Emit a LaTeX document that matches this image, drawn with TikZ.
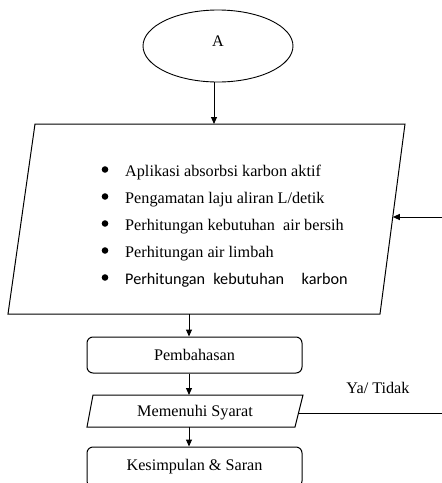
\documentclass[tikz,border=0pt]{standalone}
\usepackage{fontspec}
\setmainfont{Liberation Serif}
\newfontfamily\calib{Carlito}
\usetikzlibrary{shapes.geometric,arrows.meta}
\begin{document}
\begin{tikzpicture}[x=1pt,y=-1pt,
  every node/.style={font=\fontsize{16.2}{19}\selectfont},
  arr/.style={draw, line width=1pt, -{Triangle[length=7pt,width=6pt]}},
  ln/.style={draw, line width=1pt},
  boxr/.style={draw, line width=1pt, rounded corners=6pt, minimum width=215pt, minimum height=36pt, inner sep=0pt},
  itemtxt/.style={anchor=base west, inner sep=0pt},
  bul/.style={fill=black}]
\useasboundingbox (0,0) rectangle (442,483);
% start ellipse
\node[draw, ellipse, line width=0.9pt, minimum width=150pt, minimum height=72pt, inner sep=0pt] (A) at (218,46) {\raisebox{9pt}{A}};
% big parallelogram
\coordinate (b1) at (35,124);
\coordinate (b2) at (405,124);
\coordinate (b3) at (380,314);
\coordinate (b4) at (8,314);
\draw[line width=1pt] (b1) -- (b2) -- (b3) -- (b4) -- cycle;
\coordinate (aTop) at (214,82);
\coordinate (bIn) at (214,124);
\coordinate (bOut) at (189,314);
\coordinate (bRight) at (392.8,217);
\coordinate (fbStart) at (442,217);
% items
\foreach \i/\yb in {0/169.5,1/196.5,2/223.5,3/250.5,4/277.5}{\fill[bul] (105,\yb) circle (3.3pt);}
\node[itemtxt] (t1) at (125,176) {Aplikasi absorbsi karbon aktif};
\node[itemtxt] (t2) at (125,203) {Pengamatan laju aliran L/detik};
\node[itemtxt] (t3) at (125,230) {Perhitungan kebutuhan\hspace{4pt} air bersih};
\node[itemtxt] (t4) at (125,257) {Perhitungan air limbah};
\node[itemtxt] (t5) at (125,284) {\calib Perhitungan\hspace{4.5pt} kebutuhan\hspace{14pt} karbon};
% Pembahasan
\node[boxr] (P) at (194.5,355) {Pembahasan};
% Memenuhi Syarat parallelogram
\coordinate (m1) at (93,395);
\coordinate (m2) at (303,395);
\coordinate (m3) at (295,427);
\coordinate (m4) at (87,427);
\draw[line width=1pt] (m1) -- (m2) -- (m3) -- (m4) -- cycle;
\node[inner sep=0pt] (M) at (195,413) {Memenuhi Syarat};
\coordinate (mTop) at (189,395);
\coordinate (mBot) at (189,427);
\coordinate (mRight) at (299,413);
\coordinate (lineEnd) at (442,413);
\node[inner sep=0pt] (yt) at (378,388) {Ya/ Tidak};
% Kesimpulan
\node[boxr, minimum height=40pt] (K) at (194.5,467) {Kesimpulan \& Saran};
% connectors
\draw[arr] (aTop) -- (bIn);
\draw[arr] (fbStart) -- (bRight);
\draw[arr] (bOut) -- (bOut |- P.north);
\draw[arr] (bOut |- P.south) -- (mTop);
\draw[arr] (mBot) -- (mBot |- K.north);
\draw[ln] (mRight) -- (lineEnd);
\end{tikzpicture}
\end{document}
